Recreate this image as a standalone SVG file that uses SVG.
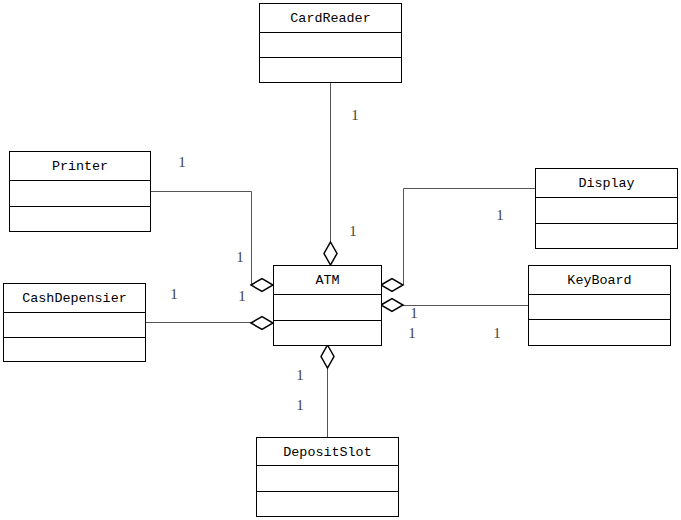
<svg xmlns="http://www.w3.org/2000/svg" width="681" height="520" viewBox="0 0 681 520">
<style>
.box{fill:#fff;stroke:#000;stroke-width:1}
.div{stroke:#000;stroke-width:1}
.name{font-family:"Liberation Mono","Courier New",monospace;font-size:13.4px;fill:#000;text-anchor:middle}
.conn{fill:none;stroke:#555;stroke-width:1}
.dia{fill:#fff;stroke:#000;stroke-width:1.5}
.m{font-family:"Liberation Serif",serif;font-size:15px;fill:#444;text-anchor:middle}
</style>
<rect width="681" height="520" fill="#fff"/>
<g id="connectors">
<path class="conn" d="M330.5,82 V242"/>
<path class="conn" d="M150,191.5 H251.5 V285"/>
<path class="conn" d="M535,188.5 H403.5 V285"/>
<path class="conn" d="M528,305.5 H403"/>
<path class="conn" d="M145,322.5 H251"/>
<path class="conn" d="M327.5,368 V437"/>
<polygon class="dia" points="330.5,242 337,253.5 330.5,265 324,253.5"/>
<polygon class="dia" points="251,285 262,278.5 273,285 262,291.5"/>
<polygon class="dia" points="381,285 392,278.5 403,285 392,291.5"/>
<polygon class="dia" points="381,305 392,298.5 403,305 392,311.5"/>
<polygon class="dia" points="251,323 262,316.5 273,323 262,329.5"/>
<polygon class="dia" points="327.5,345 334,356.5 327.5,368 321,356.5"/>
<text class="m" x="355" y="120">1</text>
<text class="m" x="353" y="236">1</text>
<text class="m" x="182" y="167">1</text>
<text class="m" x="240" y="262">1</text>
<text class="m" x="174" y="299">1</text>
<text class="m" x="242" y="301">1</text>
<text class="m" x="500" y="220">1</text>
<text class="m" x="414" y="318">1</text>
<text class="m" x="412" y="338">1</text>
<text class="m" x="497" y="338">1</text>
<text class="m" x="300" y="380">1</text>
<text class="m" x="300" y="410">1</text>
</g>
<g id="CardReader">
<rect class="box" x="259.5" y="3.5" width="142" height="79"/>
<path class="div" d="M259.5,32.5 H401.5 M259.5,57.5 H401.5"/>
<text class="name" x="330.5" y="22">CardReader</text>
</g>
<g id="Printer">
<rect class="box" x="9.5" y="151.5" width="141" height="80"/>
<path class="div" d="M9.5,180.5 H150.5 M9.5,206.5 H150.5"/>
<text class="name" x="80" y="170">Printer</text>
</g>
<g id="Display">
<rect class="box" x="535.5" y="168.5" width="142" height="80"/>
<path class="div" d="M535.5,197.5 H677.5 M535.5,223.5 H677.5"/>
<text class="name" x="606.5" y="187">Display</text>
</g>
<g id="ATM">
<rect class="box" x="273.5" y="265.5" width="108" height="80"/>
<path class="div" d="M273.5,294.5 H381.5 M273.5,320.5 H381.5"/>
<text class="name" x="327.5" y="284">ATM</text>
</g>
<g id="KeyBoard">
<rect class="box" x="528.5" y="265.5" width="142" height="80"/>
<path class="div" d="M528.5,294.5 H670.5 M528.5,319.5 H670.5"/>
<text class="name" x="599.5" y="284">KeyBoard</text>
</g>
<g id="CashDepensier">
<rect class="box" x="3.5" y="283.5" width="142" height="78"/>
<path class="div" d="M3.5,312.5 H145.5 M3.5,337.5 H145.5"/>
<text class="name" x="74.5" y="302">CashDepensier</text>
</g>
<g id="DepositSlot">
<rect class="box" x="256.5" y="437.5" width="142" height="79"/>
<path class="div" d="M256.5,465.5 H398.5 M256.5,491.5 H398.5"/>
<text class="name" x="327.5" y="456">DepositSlot</text>
</g>
</svg>
